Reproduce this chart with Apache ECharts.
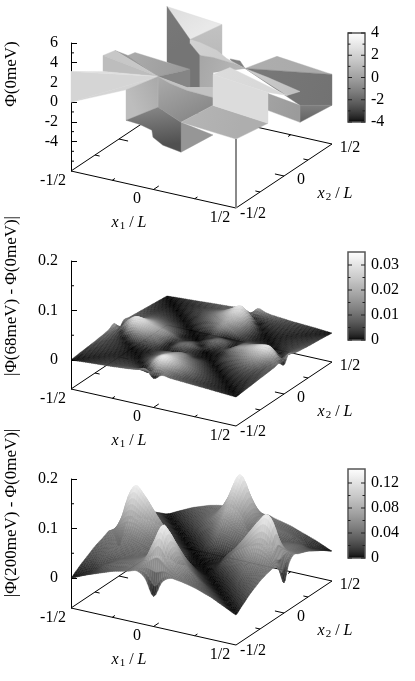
<!DOCTYPE html>
<html><head><meta charset="utf-8">
<style>html,body{margin:0;padding:0;background:#fff}#c{width:415px;height:681px}</style>
<script src="https://cdn.jsdelivr.net/npm/echarts@6/dist/echarts.min.js"></script>
</head><body><div id="c"></div>
<script>
// ---------- tick labels ----------
const floorTicks=[-0.5,-0.25,0,0.25,0.5];
const floorTickLabels=['-1/2','0','1/2'];
const zMajor0=[6,4,2,0,-2,-4], zMinor0=[5,3,1,-1,-3,-5,-6];
const zMajor1=[0.2,0.1,0], zMinor1=[0.15,0.05];
const cbTicks0=[4,2,0,-2,-4], cbMinor0=[3,1,-1,-3];
const cbTicks1=[0.03,0.02,0.01,0], cbMinor1=[0.025,0.015,0.005];
const cbTicks2=[0.12,0.08,0.04,0], cbMinor2=[0.1,0.06,0.02];
const titles=['\u03A6(0meV)','|\u03A6(68meV) - \u03A6(0meV)|','|\u03A6(200meV) - \u03A6(0meV)|'];

// ---------- panel 1: Phi(0meV), facets in (x1,x2) thirds of the cell and Phi ----------
const phi0Facets=[
[[0,3,3.2],[1,3,2.63],[1,2,3.27]],
[[1,3,2.63],[1,2,3.27],[1,3,-0.5]],
[[2,2,1.59],[2,3,0.65],[3,3,0.07]],
[[1.73,2,2.22],[1.91,2,2.24],[2,2,1.59],[1.78,2,1.82]],
[[0,3,3.2],[1,2,3.27],[1,2,-0.06],[0,3,-2.45]],
[[1,2,3.27],[1.18,2,3.19],[1.49,2,2.77],[1.67,2,2.18],[2,2,1.59],[1.78,2,1.82],[1.42,2,1.97],[1.18,2,1.88],[1,2,2.87]],
[[1,2,2.87],[1.18,2,1.88],[1.18,2,-1.35],[1,2,-1.58]],
[[1.18,2,1.88],[1.42,2,1.97],[1.78,2,1.82],[2,2,1.59],[1.6,1.69,1.35],[1.75,1.43,0.58],[1.5,1.45,0.23]],
[[0,1.78,0.88],[0,2,0.7],[1,2,0.24],[1,1,1.69]],
[[1,2,0.24],[1,1,1.69],[1.53,1,1.23],[1,2,-1.58]],
[[0,1.375,2.26],[0,1.78,0.88],[1,1,1.69]],
[[0,1,2.57],[0,1.375,2.26],[1,1,1.69]],
[[0,1,2.57],[1,1,1.69],[0,1,0.95]],
[[0,0,3.1],[0,0,0],[1,1,1.69]],
[[0,0,3.1],[0,1,0.95],[1,1,1.69]],
[[0,0,0],[1,0,2.5],[1,1,1.69]],
[[1,1,1.69],[1.22,1,1.25],[1.53,1,0.93],[2,1,0.81],[2,1,1.82],[1.53,1,1.23]],
[[2,0,0.45],[2,1,-3],[2,0,-2.58]],
[[1,1,1.69],[1.22,1,1.25],[1.53,1,0.93],[2,1,0.81],[2,1,0],[2,0,0.45],[1,1,-1.44]],
[[1,0,2.5],[1,1,1.69],[1,1,-1.44],[1,0,-0.6]],
[[1,1,-1.44],[2,0,0.45],[2,0,-2.58],[1.67,0,-2.29],[1.49,0,-1.71],[1.47,0,-1.02],[1.25,0,-0.7],[1,0,-0.6]],
[[2,0,0.45],[2,1,0],[3,1,-0.57],[3,0,0]],
[[2,2,1.59],[3,3,0.07],[3,3,-3.06],[3,2,-0.91]],
[[3,2,-0.91],[3,3,-3.06],[3,2,-2.63]],
[[2,2,1.59],[3,1.6,0.97],[3,2,0.5],[2.42,2,1.19]],
[[3,1,2.46],[3,2,-0.91],[3,2,-2.63],[3,1,0.75]],
[[2,1,3.13],[2,1.53,2.7],[3,1.6,0.97],[3,1,2.57]],
[[2,1,3.13],[3,1,2.57],[3,1,-0.57],[2,1,0]]
];
// shade of each facet as Phi: [start, end, vertex the gradient runs to]
const phi0Shades=[
[2.4,3,2],[1.3,1.0,2],[0.5,0.3,2],[-1.2,-1.2,1],[-1.4,-1.5,1],[2,1.6,4],[-1.5,-1.5,1],[0.2,0.9,3],
[0.4,-0.3,2],[-1,-1,1],[-0.3,-0.3,1],[1.5,1.5,1],[1.1,1.1,1],[2.1,2.1,1],[2.5,2.5,1],[2.1,2.1,1],
[1.3,1.3,1],[-0.4,-0.4,1],[0.4,-0.8,5],[1.1,0.3,1],[-1,-2.6,3],[0.8,0.5,3],[-1.4,-1.6,2],[-1.2,-2.1,2],
[1.8,1.2,2],[0.1,-0.2,1],[2.4,2.2,2],[2.4,2.4,1]
];
const frontPost=[[3,0,-7],[3,0,0]];

// ---------- panel 2: |Phi(68meV)-Phi(0meV)| x 1e-4; rows x2=-1/2..1/2, columns x1=-1/2..1/2 ----------
const phi68=[
[0,12,25,35,45,55,70,85,110,160,0,100,80,70,60,50,40,30,20,10,0],
[12,10,18,25,32,38,42,45,40,20,180,130,85,60,46,34,24,16,8,0,10],
[25,18,12,20,25,28,28,20,15,200,300,210,130,85,55,36,22,10,0,8,20],
[35,25,20,14,18,18,12,8,100,220,270,200,135,85,50,28,12,0,10,16,30],
[45,32,25,18,12,8,3,40,110,190,210,160,105,65,32,14,0,12,22,24,40],
[55,38,28,18,8,2,12,40,95,145,170,115,75,40,16,0,14,28,36,34,50],
[70,42,28,12,3,12,15,40,75,100,125,70,42,16,0,16,32,50,55,46,60],
[85,45,20,8,40,40,40,15,12,12,50,15,10,0,16,40,65,85,85,60,70],
[110,40,15,100,110,95,75,12,55,70,25,8,0,10,42,75,105,135,130,85,80],
[160,20,200,220,190,145,100,12,70,90,50,0,8,15,70,115,160,200,210,130,100],
[0,180,300,270,210,170,125,50,25,50,5,50,25,50,125,170,210,270,300,180,0],
[100,130,210,200,160,115,70,15,8,0,50,90,70,12,100,145,190,220,200,20,160],
[80,85,130,135,105,75,42,10,0,8,25,70,55,12,75,95,110,100,15,40,110],
[70,60,85,85,65,40,16,0,10,15,50,12,12,15,40,40,40,8,20,45,85],
[60,46,55,50,32,16,0,16,42,70,125,100,75,40,15,12,3,12,28,42,70],
[50,34,36,28,14,0,16,40,75,115,170,145,95,40,12,2,8,18,28,38,55],
[40,24,22,12,0,14,32,65,105,160,210,190,110,40,3,8,12,18,25,32,45],
[30,16,10,0,12,28,50,85,135,200,270,220,100,8,12,18,18,14,20,25,35],
[20,8,0,10,22,36,55,85,130,210,300,200,15,20,28,28,25,20,12,18,25],
[10,0,8,16,24,34,46,60,85,130,180,20,40,45,42,38,32,25,18,10,12],
[0,10,20,30,40,50,60,70,80,100,0,160,110,85,70,55,45,35,25,12,0]
];
// ---------- panel 3: |Phi(200meV)-Phi(0meV)| x 1e-3 ----------
const phi200=[
[0,7,14,20,26,32,36,40,44,32,0,32,44,43,40,36,30,24,16,8,0],
[7,7,12,20,27,32,36,42,52,72,95,72,52,42,36,30,24,16,8,0,8],
[14,12,15,26,32,36,40,45,60,98,130,88,56,42,32,24,15,8,0,8,16],
[20,20,26,24,32,36,40,47,62,90,115,82,55,38,26,15,7,0,8,16,24],
[26,27,32,32,30,34,38,44,56,76,92,62,40,26,14,6,0,7,15,24,30],
[32,32,36,36,34,34,36,40,46,58,68,46,26,13,5,0,6,15,24,30,36],
[36,36,40,40,38,36,33,35,38,42,46,28,14,5,0,5,14,26,32,36,40],
[40,42,45,47,44,40,35,26,28,30,28,14,5,0,5,13,26,38,42,42,43],
[44,52,60,62,56,46,38,28,10,10,8,3,0,5,14,26,40,55,56,52,44],
[32,72,98,90,76,58,42,30,10,3,2,0,3,14,28,46,62,82,88,72,32],
[0,95,130,115,92,68,46,28,8,2,0,2,8,28,46,68,92,115,130,95,0],
[32,72,88,82,62,46,28,14,3,0,2,3,10,30,42,58,76,90,98,72,32],
[44,52,56,55,40,26,14,5,0,3,8,10,10,28,38,46,56,62,60,52,44],
[43,42,42,38,26,13,5,0,5,14,28,30,28,26,35,40,44,47,45,42,40],
[40,36,32,26,14,5,0,5,14,28,46,42,38,35,33,36,38,40,40,36,36],
[36,30,24,15,6,0,5,13,26,46,68,58,46,40,36,34,34,36,36,32,32],
[30,24,15,7,0,6,14,26,40,62,92,76,56,44,38,34,30,32,32,27,26],
[24,16,8,0,7,15,26,38,55,82,115,90,62,47,40,36,32,24,26,20,20],
[16,8,0,8,15,24,32,42,56,88,130,98,60,45,40,36,32,26,15,12,14],
[8,0,8,16,24,30,36,42,52,72,95,72,52,42,36,32,27,20,12,7,7],
[0,8,16,24,30,36,40,43,44,32,0,32,44,40,36,32,26,20,14,7,0]
];

// ---------- layout ----------
const FONT='"Liberation Serif"';
const panels=[
 {top:43,h:128,zMin:-7,zMax:6,major:zMajor0,minor:zMinor0,cbMin:-4,cbMax:4,cbTop:33,cbH:89,cbT:cbTicks0,cbM:cbMinor0},
 {top:261,h:128,zMin:-0.0586,zMax:0.2,major:zMajor1,minor:zMinor1,cbMin:0,cbMax:0.0352,cbTop:252,cbH:88,cbT:cbTicks1,cbM:cbMinor1,grid:phi68,unit:1e-4},
 {top:479,h:129,zMin:-0.0606,zMax:0.2,major:zMajor1,minor:zMinor1,cbMin:0,cbMax:0.1424,cbTop:469,cbH:89,cbT:cbTicks2,cbM:cbMinor2,grid:phi200,unit:1e-3}
];
panels.forEach(p=>{p.k=p.h/(p.zMax-p.zMin);});
function proj(p,x1,x2,z){
  const u=x1+.5,v=x2+.5;
  return [165*u+96*v, z-(37*u-64*v)/p.k];
}
function gray(p,val){
  const g=Math.max(0,Math.min(1,(val-p.cbMin)/(p.cbMax-p.cbMin)));
  const c=Math.round(255*Math.pow(g,2/3));
  return 'rgb('+c+','+c+','+c+')';
}
// Catmull-Rom weights: only used to draw a smooth sheet through the read grid values
function crW(t){
  return [-.5*t+t*t-.5*t*t*t, 1-2.5*t*t+1.5*t*t*t, .5*t+2*t*t-1.5*t*t*t, -.5*t*t+.5*t*t*t];
}
function smooth(G,i,j,a,b){
  const n=G.length-1,wa=crW(a),wb=crW(b);let s=0;
  for(let q=0;q<4;q++)for(let r=0;r<4;r++){
    const jj=Math.max(0,Math.min(n,j+q-1)),ii=Math.max(0,Math.min(n,i+r-1));
    s+=G[jj][ii]*wb[q]*wa[r];
  }
  return Math.max(0,s);
}
const grids=[],xAxes=[],yAxes=[],series=[],graphics=[];
panels.forEach((p,idx)=>{
  const g=grids.length;
  grids.push({left:71,width:261,top:p.top,height:p.h,containLabel:false});
  xAxes.push({type:'value',gridIndex:g,min:0,max:261,show:false});
  yAxes.push({type:'value',gridIndex:g,position:'left',min:p.zMin,max:p.zMax,scale:true,splitLine:{show:false},
    axisLine:{show:true,onZero:false,lineStyle:{color:'#000',width:1}},
    axisTick:{show:true,inside:true,length:6,customValues:p.major,lineStyle:{color:'#000',width:1}},
    axisLabel:{show:true,customValues:p.major,fontFamily:FONT,fontSize:16,color:'#000',margin:13,
      formatter:v=>String(+v.toFixed(3))}});
  // floor frame, ticks, minor z ticks
  series.push({type:'custom',xAxisIndex:g,yAxisIndex:g,coordinateSystem:'cartesian2d',clip:false,silent:true,z:1,
    animation:false,data:[[0,0]],renderItem:(params,api)=>{
      const c=(x1,x2,z)=>api.coord(proj(p,x1,x2,z===undefined?p.zMin:z));
      const kids=[];
      const seg=(a,b,w,col)=>kids.push({type:'line',shape:{x1:a[0],y1:a[1],x2:b[0],y2:b[1]},style:{stroke:col||'#000',lineWidth:w||1}});
      seg(c(-.5,-.5),c(.5,-.5));seg(c(.5,-.5),c(.5,.5));seg(c(-.5,-.5),c(-.5,.5));seg(c(-.5,.5),c(.5,.5));
      floorTicks.slice(1,4).forEach(t=>{
        const l=t===0?.055:.028;
        seg(c(t,-.5),c(t,-.5+l));
        seg(c(t,.5),c(t,.5-l));
        seg(c(-.5,t),c(-.5+l,t));
        seg(c(.5,t),c(.5-l,t));
      });
      p.minor.forEach(z=>{const a=api.coord([0,z]);seg(a,[a[0]+3,a[1]]);});
      return {type:'group',children:kids};
    }});
  // surface
  let cells=[];
  if(p.grid){
    for(let j=p.grid.length-2;j>=0;j--)for(let i=0;i<p.grid[0].length-1;i++)cells.push([i,j]);
    cells.sort((a,b)=>(a[0]-a[1])-(b[0]-b[1]));
    const n=p.grid.length-1,S=4;
    series.push({type:'custom',xAxisIndex:g,yAxisIndex:g,coordinateSystem:'cartesian2d',clip:false,silent:true,z:2,
      animation:false,progressive:0,data:cells,renderItem:(params,api)=>{
        const i=api.value(0),j=api.value(1),G=p.grid,U=p.unit;
        const kids=[];
        for(let sb=S-1;sb>=0;sb--)for(let sa=0;sa<S;sa++){
          const cor=[[sa,sb],[sa+1,sb],[sa+1,sb+1],[sa,sb+1]].map(d=>{
            const a=d[0]/S,b=d[1]/S,z=smooth(G,i,j,a,b)*U;
            return {z,pt:api.coord(proj(p,-.5+(i+a)/n,-.5+(j+b)/n,z))};
          });
          const m=(cor[0].z+cor[1].z+cor[2].z+cor[3].z)/4,col=gray(p,m);
          kids.push({type:'polygon',shape:{points:cor.map(o=>o.pt)},style:{fill:col,stroke:col,lineWidth:.4}});
        }
        return {type:'group',children:kids};
      }});
  }else{
    const order=phi0Facets.map((f,n)=>[n]);
    series.push({type:'custom',xAxisIndex:g,yAxisIndex:g,coordinateSystem:'cartesian2d',clip:false,silent:true,z:2,
      animation:false,progressive:0,data:order,renderItem:(params,api)=>{
        const n=api.value(0),f=phi0Facets[n],sh=phi0Shades[n];
        const pts=f.map(v=>api.coord(proj(p,v[0]/3-.5,v[1]/3-.5,v[2])));
        const a=gray(p,sh[0]),b=gray(p,sh[1]),e=pts[sh[2]];
        const fill=new echarts.graphic.LinearGradient(pts[0][0],pts[0][1],e[0],e[1],[{offset:0,color:a},{offset:1,color:b}],true);
        return {type:'polygon',shape:{points:pts},style:{fill:fill,stroke:a,lineWidth:.4}};
      }});
    series.push({type:'custom',xAxisIndex:g,yAxisIndex:g,coordinateSystem:'cartesian2d',clip:false,silent:true,z:3,
      animation:false,data:[[0,0]],renderItem:(params,api)=>{
        const a=api.coord(proj(p,frontPost[0][0]/3-.5,frontPost[0][1]/3-.5,frontPost[0][2]));
        const b=api.coord(proj(p,frontPost[1][0]/3-.5,frontPost[1][1]/3-.5,frontPost[1][2]));
        return {type:'line',shape:{x1:a[0],y1:a[1],x2:b[0],y2:b[1]},style:{stroke:'#8a8a8a',lineWidth:2}};
      }});
  }
  // colour box
  const cg=grids.length;
  grids.push({left:348,width:17,top:p.cbTop,height:p.cbH});
  xAxes.push({type:'value',gridIndex:cg,min:0,max:1,show:false});
  yAxes.push({type:'value',gridIndex:cg,position:'right',min:p.cbMin,max:p.cbMax,scale:true,splitLine:{show:false},
    axisLine:{show:false},axisTick:{show:false},
    axisLabel:{show:true,customValues:p.cbT,fontFamily:FONT,fontSize:16,color:'#000',margin:6,formatter:v=>String(+v.toFixed(3))}});
  series.push({type:'custom',xAxisIndex:cg,yAxisIndex:cg,coordinateSystem:'cartesian2d',clip:false,silent:true,z:2,
    animation:false,data:[[0,0]],renderItem:(params,api)=>{
      const tl=api.coord([0,p.cbMax]),br=api.coord([1,p.cbMin]);
      const stops=[];
      for(let s=0;s<=24;s++)stops.push({offset:s/24,color:gray(p,p.cbMax-(p.cbMax-p.cbMin)*s/24)});
      const kids=[{type:'rect',shape:{x:tl[0],y:tl[1],width:br[0]-tl[0],height:br[1]-tl[1]},
        style:{fill:new echarts.graphic.LinearGradient(0,0,0,1,stops),stroke:'#555',lineWidth:1.5}}];
      const tick=(v,l)=>{
        const y=api.coord([0,v])[1];
        kids.push({type:'line',shape:{x1:tl[0],y1:y,x2:tl[0]+l,y2:y},style:{stroke:'#222',lineWidth:1}});
        kids.push({type:'line',shape:{x1:br[0]-l,y1:y,x2:br[0],y2:y},style:{stroke:'#222',lineWidth:1}});
      };
      p.cbT.forEach(v=>tick(v,4));p.cbM.forEach(v=>tick(v,2.5));
      return {type:'group',children:kids};
    }});
  // text
  const yF=p.top+p.h;
  const txt=(x,y,s,rot)=>graphics.push({type:'text',x:x,y:y,rotation:rot||0,silent:true,
    style:{text:s,font:'16px '+FONT,fill:'#000',align:'center',verticalAlign:'middle'}});
  txt(53,yF+10,floorTickLabels[0]);txt(137,yF+28,floorTickLabels[1]);txt(220,yF+47,floorTickLabels[2]);
  txt(253,yF+43,floorTickLabels[0]);txt(301,yF+9,floorTickLabels[1]);txt(350,yF-23,floorTickLabels[2]);
  const sub=(x,y,n)=>graphics.push({type:'text',x:x,y:y,silent:true,style:{
    text:'{i|x}{s|'+n+'}{t| / }{i|L}',align:'center',verticalAlign:'middle',fill:'#000',
    rich:{i:{font:'italic 16px '+FONT,fill:'#000'},t:{font:'16px '+FONT,fill:'#000'},s:{font:'11px '+FONT,fill:'#000',padding:[7,0,0,1]}}}});
  sub(129,yF+52,1);sub(335,yF+23,2);
  const ty=[74,296,513][idx];
  graphics.push({type:'text',x:12,y:ty,rotation:Math.PI/2,silent:true,
    style:{text:titles[idx],font:'17px '+FONT,fill:'#000',align:'center',verticalAlign:'middle'}});
});
const chart=echarts.init(document.getElementById('c'),null,{renderer:'canvas',width:415,height:681});
chart.setOption({animation:false,backgroundColor:'#fff',grid:grids,xAxis:xAxes,yAxis:yAxes,series:series,graphic:{elements:graphics}});
</script></body></html>
